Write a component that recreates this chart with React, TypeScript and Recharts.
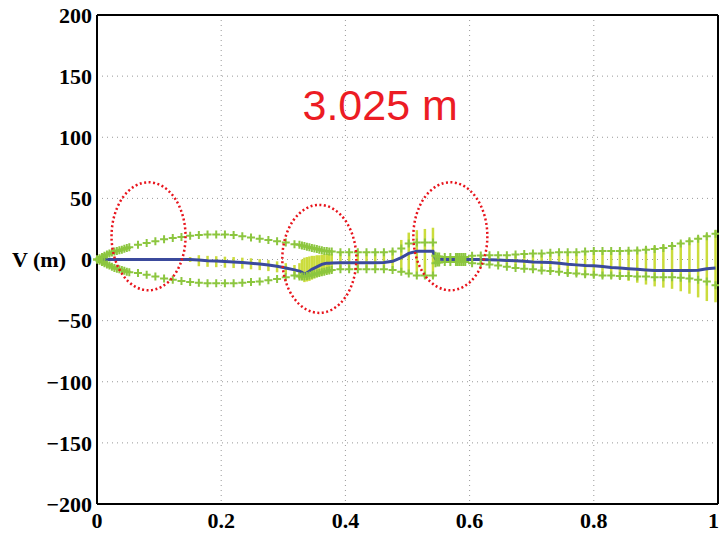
import { ComposedChart, Line, Scatter, ErrorBar, XAxis, YAxis, CartesianGrid, ReferenceLine, ReferenceDot } from 'recharts'

// sample positions along the path (normalised 0..1)
const markerX = [
  0, 0.004, 0.008, 0.012, 0.016, 0.02, 0.024, 0.028, 0.032, 0.036, 0.04, 0.044, 0.048, 0.052,
  0.066, 0.08, 0.094, 0.108, 0.122, 0.136, 0.15, 0.164, 0.178, 0.192, 0.206, 0.22, 0.234, 0.248, 0.262, 0.276, 0.29, 0.304, 0.318,
  0.326, 0.33, 0.334, 0.338, 0.342, 0.346, 0.35, 0.354, 0.358, 0.362, 0.366, 0.37, 0.374, 0.378,
  0.392, 0.406, 0.42, 0.434, 0.448, 0.462, 0.476, 0.49,
  0.502, 0.515, 0.528, 0.541,
  0.545, 0.548, 0.551, 0.56, 0.569, 0.578, 0.581, 0.584, 0.587, 0.59, 0.593,
  0.604, 0.618, 0.632, 0.646, 0.66, 0.674, 0.688, 0.702, 0.716, 0.73, 0.744, 0.758, 0.772, 0.786, 0.8,
  0.814, 0.828, 0.842, 0.856, 0.87, 0.884, 0.898, 0.912, 0.926, 0.94, 0.954, 0.968, 0.982, 0.996,
]

// estimated V (m)
const meanY = [
  0, 0, 0, 0, 0, 0, 0, 0, 0, 0, 0, 0, 0, 0,
  0, 0, 0, 0, 0, 0, 0, -0.5, -1, -1.3, -1.7, -2, -2.5, -3, -3.7, -4.5, -5.5, -7, -8.5,
  -9.5, -10.5, -12, -11, -9.5, -8, -7, -6, -5, -4, -3.5, -3, -3, -2.8,
  -2.7, -2.7, -2.7, -2.7, -2.6, -2.5, -1.5, 1.5,
  5, 6.8, 6.8, 6.8,
  0.5, 0.3, 0.2, 0, 0, 0, 0, 0, 0, 0, 0,
  0, 0, -0.3, -0.5, -0.8, -1, -1.5, -2, -2.2, -2.5, -3, -3.8, -4.4, -5, -5.2,
  -5.8, -6.5, -7, -7.5, -8, -8.5, -9, -9, -9, -9, -9, -8.8, -7.5, -7,
]

const upperY = [
  0, 1, 2, 3, 4, 5, 5.8, 6.5, 7, 7.5, 8, 8.7, 9.4, 10,
  12, 13.5, 15, 16.5, 17.5, 18.5, 19.5, 20, 20.5, 20.5, 20.5, 20, 19, 18, 17, 16, 15, 14, 12.5,
  12, 11.5, 11, 10.5, 10, 9.5, 9, 8.5, 8, 7.5, 7, 7, 6.5, 6.5,
  6, 6, 6, 6, 6, 6, 6.5, 9,
  13, 14, 14, 14,
  3, 2.5, 2.5, 2, 2, 2, 2, 2, 2, 2, 2,
  3, 3.2, 3.5, 3.5, 3.5, 4, 4.5, 5, 5, 5.5, 6, 6, 6, 6.5, 7,
  7, 7, 7, 7.2, 7.4, 8, 8.5, 9.5, 11, 13, 15, 17, 19, 21,
]

const lowerY = [
  0, -1, -2, -3, -4, -5, -6, -7, -7.5, -8, -8.5, -9.2, -10, -10.5,
  -11, -12.5, -14, -15.5, -16.5, -17.5, -18.5, -19, -19.5, -19.5, -19.5, -19.5, -19, -18.5, -18, -17, -16, -14.5, -13,
  -14, -14, -14, -13.5, -13, -12.5, -12, -11.5, -11, -10.5, -10, -9.5, -9, -8.5,
  -8, -8, -8, -8, -8, -8, -8.5, -10,
  -11.5, -13, -13, -13,
  -3, -2.5, -2.5, -2, -2, -2, -2, -2, -2, -2, -2,
  -3, -3.5, -4, -5, -6, -7, -7.5, -8, -9, -9.5, -10, -11, -11.5, -12, -12.5,
  -13, -13, -13.5, -13.5, -14, -14, -14.5, -14.5, -14.5, -15, -15.5, -16.5, -18, -21,
]

const barHi = [
  0, 0, 0, 0, 0, 0, 0, 0, 0, 0, 0, 0, 0, 0,
  1, 1, 1, 1, 1, 1, 2, 3.5, 3, 2.7, 2.3, 2, 1.5, 1, 0.3, -0.5, -1.5, -3, -4.5,
  -3, 0, 1.5, 2, 2.5, 3, 3, 3.5, 3.5, 4, 4, 4.5, 4.5, 5,
  6, 6, 6, 6, 6, 6, 8, 16,
  22, 24, 25, 26,
  3, 2.5, 2.5, 2, 2, 2, 2, 2, 2, 2, 2,
  3, 3.2, 3.5, 3.5, 3.5, 4, 4.5, 5, 5, 5.5, 6, 6, 6, 6.5, 7,
  7, 7, 8, 8.5, 9, 10, 11, 12, 13, 15, 17, 19, 21, 24,
]

const barLo = [
  0, 0, 0, 0, 0, 0, 0, 0, 0, 0, 0, 0, 0, 0,
  -1, -1, -1, -1, -1, -1, -2, -5.5, -6, -6.3, -6.7, -7, -7.5, -8, -8.7, -9.5, -10.5, -12, -13.5,
  -16, -17, -18.5, -18, -17.5, -16.5, -15.5, -14.5, -13.5, -13, -12, -11.5, -11, -10.5,
  -8, -8, -8, -8, -8, -8, -9, -11,
  -12, -14, -15, -15,
  -3, -2.5, -2.5, -2, -2, -2, -2, -2, -2, -2, -2,
  -3, -3.5, -4, -5, -6, -7, -8, -9, -10, -11, -12, -13, -13.5, -14, -14.5,
  -15, -15.5, -16, -17.5, -19, -20.5, -22, -23, -24, -26, -28, -31, -34, -35,
]

const xTicks = [0, 0.2, 0.4, 0.6, 0.8, 1]
const yTicks = [-200, -150, -100, -50, 0, 50, 100, 150, 200]

// dotted circles marking the regions of interest
const circleX = [0.083, 0.358, 0.569]
const circleY = [19, 0.5, 19]
const caption = '3.025 m'

const rows = markerX.map((x, i) => ({
  x,
  mean: meanY[i],
  upper: upperY[i],
  lower: lowerY[i],
  spread: [meanY[i] - barLo[i], barHi[i] - meanY[i]],
}))

const tickStyle = { fill: '#000', fontSize: 22, fontWeight: 'bold', fontFamily: '"Liberation Serif", serif' }

const Plus = (p: any) => (
  <path d={`M${p.cx - 4},${p.cy}h8M${p.cx},${p.cy - 4}v8`} stroke="#8cc63f" strokeWidth={2} fill="none" />
)
const Nothing = () => <g />

const fmtX = (v: number) => (v === 0 || v === 1 ? String(v) : v.toFixed(1))
const fmtY = (v: number) => String(v).replace('-', '\u2212')

export default function App() {
  return (
    <div style={{ position: 'absolute', left: 0, top: 0, background: '#fff' }}>
      <ComposedChart width={719} height={533} data={rows} margin={{ top: 15, right: 1, bottom: 0, left: 0 }}>
        <CartesianGrid stroke="#999" strokeDasharray="1 4" />
        <XAxis
          dataKey="x"
          type="number"
          domain={[0, 1]}
          ticks={xTicks}
          tickFormatter={fmtX}
          tick={tickStyle}
          tickLine={false}
          tickSize={0}
          tickMargin={8}
          height={29}
          axisLine={{ stroke: '#000', strokeWidth: 2 }}
        />
        <YAxis
          type="number"
          domain={[-200, 200]}
          ticks={yTicks}
          tickFormatter={fmtY}
          tick={tickStyle}
          tickLine={false}
          tickSize={0}
          tickMargin={5}
          width={97}
          axisLine={{ stroke: '#000', strokeWidth: 2 }}
          label={{ value: 'V (m)', position: 'insideLeft', offset: 12, style: tickStyle }}
        />
        <ReferenceLine y={200} stroke="#000" strokeWidth={2} />
        <ReferenceLine x={1} stroke="#000" strokeWidth={2} />
        <Scatter dataKey="mean" shape={Nothing} isAnimationActive={false}>
          <ErrorBar dataKey="spread" direction="y" width={0} stroke="#cbdc3c" strokeWidth={2.5} isAnimationActive={false} />
        </Scatter>
        <Scatter dataKey="upper" shape={Plus} isAnimationActive={false} />
        <Scatter dataKey="lower" shape={Plus} isAnimationActive={false} />
        <Line dataKey="mean" type="linear" stroke="#3b4a9c" strokeWidth={3} dot={false} isAnimationActive={false} />
        {circleX.map((cx, i) => (
          <ReferenceDot
            key={i}
            x={cx}
            y={circleY[i]}
            shape={(p: any) => (
              <ellipse cx={p.cx} cy={p.cy} rx={37} ry={54} fill="none" stroke="#e8141c" strokeWidth={2.5} strokeDasharray="2 2.5" />
            )}
          />
        ))}
        <ReferenceDot
          x={0.456}
          y={114}
          shape={(p: any) => (
            <text x={p.cx} y={p.cy} textAnchor="middle" fill="#ec1c24" fontSize={43} fontFamily='"Liberation Sans", Arial, sans-serif'>
              {caption}
            </text>
          )}
        />
      </ComposedChart>
    </div>
  )
}
